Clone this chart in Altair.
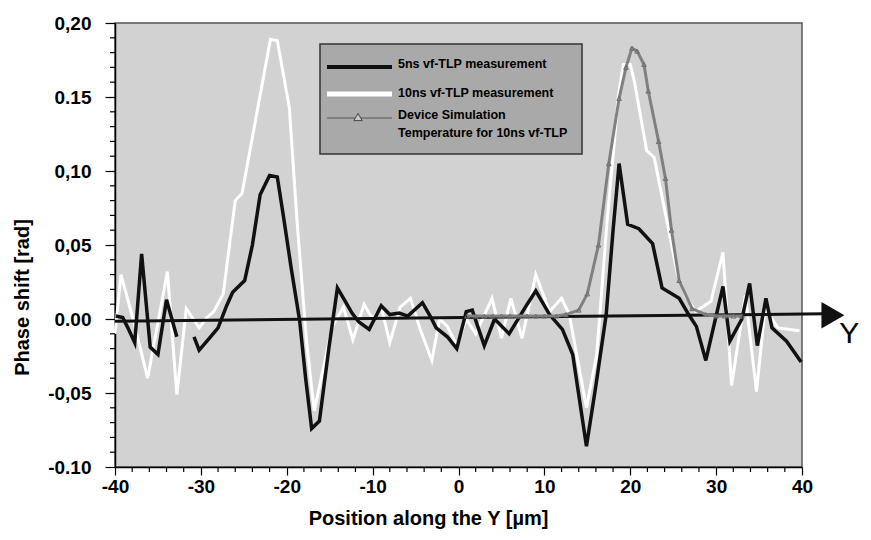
import altair as alt
import pandas as pd

# ---------------- data ----------------
# 5 ns vf-TLP measurement (black); None marks the gap in the trace
x_5ns = [-39.9, -39.1, -38.5, -37.7, -36.9, -35.9, -35.0, -34.0, -32.8, -31.8,
         -30.8, -30.2, -29.0, -28.0, -27.0, -26.3, -24.9, -24.0, -23.1, -22.0,
         -21.1, -20.4, -19.5, -18.5, -17.8, -17.1, -16.2, -15.1, -14.1, -13.2,
         -12.4, -11.6, -10.4, -9.0, -8.0, -6.9, -5.9, -4.2, -3.3, -2.6,
         -1.3, -0.2, 0.9, 1.6, 3.0, 4.2, 5.9, 8.0, 9.0, 10.6,
         12.1, 13.3, 14.9, 16.0, 17.2, 18.0, 18.7, 19.7, 21.0, 22.6,
         23.7, 25.7, 26.8, 27.7, 28.8, 30.8, 31.6, 33.0, 33.9, 34.8,
         35.8, 36.5, 38.2, 39.9]
y_5ns = [0.002, 0.001, -0.006, -0.016, 0.044, -0.019, -0.024, 0.013, -0.012, None,
         -0.012, -0.021, -0.013, -0.006, 0.009, 0.018, 0.026, 0.050, 0.084, 0.097,
         0.096, 0.070, 0.035, -0.001, -0.040, -0.074, -0.069, -0.020, 0.021, 0.012,
         0.004, -0.002, -0.007, 0.009, 0.003, 0.004, 0.002, 0.011, 0.002, -0.006,
         -0.012, -0.020, 0.005, 0.006, -0.018, 0.000, -0.010, 0.010, 0.019, 0.003,
         -0.007, -0.024, -0.086, -0.045, 0.003, 0.060, 0.105, 0.064, 0.061, 0.051,
         0.021, 0.014, 0.003, -0.005, -0.028, 0.022, -0.015, 0.000, 0.024, -0.018,
         0.014, -0.006, -0.015, -0.029]

# 10 ns vf-TLP measurement (white)
x_10ns = [-40.0, -39.3, -37.9, -36.2, -33.9, -32.8, -31.7, -30.2, -29.3, -28.5,
          -27.4, -26.0, -25.2, -21.9, -21.1, -19.7, -18.8, -17.7, -16.8, -14.7,
          -13.4, -12.3, -11.0, -10.0, -9.0, -8.0, -6.8, -5.6, -4.4, -3.1,
          -2.2, -1.3, -0.2, 0.9, 2.0, 3.9, 5.0, 6.1, 7.4, 9.0,
          10.6, 12.0, 12.9, 14.9, 16.1, 17.3, 18.0, 18.6, 19.2, 20.0,
          20.5, 21.9, 22.8, 24.2, 25.5, 26.5, 27.6, 29.4, 30.8, 31.8,
          33.4, 34.7, 35.7, 37.2, 39.7]
y_10ns = [-0.010, 0.030, 0.000, -0.040, 0.032, -0.051, 0.007, -0.006, 0.001, 0.005,
          0.017, 0.080, 0.085, 0.189, 0.188, 0.143, 0.066, -0.015, -0.062, -0.005,
          0.008, -0.014, 0.010, 0.000, 0.008, -0.016, 0.008, 0.014, -0.008, -0.028,
          0.000, -0.005, -0.018, 0.000, -0.010, 0.014, -0.013, 0.014, -0.013, 0.030,
          0.005, 0.014, 0.003, -0.060, -0.024, 0.066, 0.110, 0.150, 0.172, 0.172,
          0.160, 0.114, 0.109, 0.068, 0.030, 0.015, 0.005, 0.012, 0.045, -0.045,
          0.016, -0.049, 0.007, -0.006, -0.008]

# Device simulation, temperature for 10 ns vf-TLP (grey, triangles)
x_sim = [1.0, 2.0, 3.0, 4.0, 5.0, 6.0, 7.0, 8.0, 9.0, 10.0, 11.4, 12.5, 14.0,
         15.0, 16.3, 17.5, 18.7, 19.5, 20.2, 20.8, 21.6, 22.1, 23.3, 24.1,
         24.8, 25.7, 27.2, 28.8, 30.0, 31.0, 32.0, 33.0]
y_sim = [0.002, 0.002, 0.002, 0.002, 0.002, 0.002, 0.002, 0.002, 0.002, 0.002,
         0.002, 0.003, 0.006, 0.017, 0.050, 0.105, 0.149, 0.170, 0.183, 0.181,
         0.172, 0.154, 0.120, 0.095, 0.060, 0.026, 0.007, 0.003, 0.002, 0.002,
         0.002, 0.002]

legend_labels = ["5ns vf-TLP measurement", "10ns vf-TLP measurement",
                 "Device Simulation", "Temperature for 10ns vf-TLP"]

x_major_ticks = [-40, -30, -20, -10, 0, 10, 20, 30, 40]
x_minor_ticks = [v for v in range(-40, 41, 2) if v % 10 != 0]
y_major_ticks = [-0.10, -0.05, 0.00, 0.05, 0.10, 0.15, 0.20]
y_major_labels = ["-0.10", "-0,05", "0.00", "0,05", "0,10", "0.15", "0,20"]
y_minor_ticks = [round(-0.10 + 0.01 * i, 2) for i in range(31) if i % 5 != 0]

# y = 0 arrow axis drawn across the plot
arrow_x = [-40.0, 42.6]
arrow_y = [-0.0015, 0.0035]
arrow_head_x = [43.6]
arrow_head_y = [0.0025]
arrow_label_x = [45.5]
arrow_label_y = [-0.010]
arrow_label = ["Y"]

# ---------------- styles ----------------
FONT = "Liberation Sans"
W, H = 687, 444

df5 = pd.DataFrame({"x": x_5ns, "y": y_5ns})
df10 = pd.DataFrame({"x": x_10ns, "y": y_10ns})
dfsim = pd.DataFrame({"x": x_sim, "y": y_sim})
dfarrow = pd.DataFrame({"x": arrow_x, "y": arrow_y})
dfhead = pd.DataFrame({"x": arrow_head_x, "y": arrow_head_y})
dflab = pd.DataFrame({"x": arrow_label_x, "y": arrow_label_y, "t": arrow_label})
dfxminor = pd.DataFrame({"x": x_minor_ticks})
dfyminor = pd.DataFrame({"y": y_minor_ticks})
one = pd.DataFrame({"k": [0]})

y_expr = ""
for v, lab in zip(y_major_ticks, y_major_labels):
    y_expr += f"round(datum.value*100) == {int(round(v * 100))} ? '{lab}' : "
y_expr += "''"

xscale = alt.Scale(domain=[-40, 40], nice=False, zero=False)
yscale = alt.Scale(domain=[-0.10, 0.20], nice=False, zero=False)

xaxis = alt.Axis(
    values=x_major_ticks,
    labelExpr="'' + datum.value",
    tickSize=8, tickColor="black", domainColor="black", domainWidth=1.5, tickWidth=1.2,
    labelFont=FONT, labelFontWeight="bold", labelFontSize=19, labelColor="black",
    labelPadding=2, grid=False, labelFlush=False, labelOverlap=False,
    title="Position along the Y [µm]", titleFont=FONT, titleFontWeight="bold",
    titleFontSize=20, titleColor="black", titleX=313, titleY=57,
    titleAlign="center", titleBaseline="alphabetic", titleAnchor="middle",
)
yaxis = alt.Axis(
    values=y_major_ticks,
    labelExpr=y_expr,
    tickSize=10, tickColor="black", domainColor="black", domainWidth=1.5, tickWidth=1.2,
    labelFont=FONT, labelFontWeight="bold", labelFontSize=19, labelColor="black",
    labelPadding=14, grid=False, labelFlush=False, labelOverlap=False,
    title="Phase shift [rad]", titleFont=FONT, titleFontWeight="bold",
    titleFontSize=20, titleColor="black", titleX=-93, titleY=274,
    titleAngle=-90, titleAlign="center", titleBaseline="middle",
)

X = alt.X("x:Q", scale=xscale, axis=xaxis)
Y = alt.Y("y:Q", scale=yscale, axis=yaxis)

white = alt.Chart(df10).mark_line(color="white", strokeWidth=3).encode(x=X, y=Y)
black = alt.Chart(df5).mark_line(color="#111111", strokeWidth=3.5).encode(x="x:Q", y="y:Q")
arrow = alt.Chart(dfarrow).mark_line(color="#111111", strokeWidth=3).encode(x="x:Q", y="y:Q")
head = alt.Chart(dfhead).mark_point(shape="triangle-right", filled=True, color="#111111",
                                    size=700, opacity=1).encode(x="x:Q", y="y:Q")
ylab = alt.Chart(dflab).mark_text(font=FONT, fontSize=30, color="black",
                                  align="center", baseline="middle").encode(x="x:Q", y="y:Q", text="t:N")
sim = alt.Chart(dfsim).mark_line(
    color="#808080", strokeWidth=3,
    point=alt.OverlayMarkDef(shape="triangle-up", filled=False, size=22,
                             stroke="#707070", strokeWidth=1, opacity=1),
).encode(x="x:Q", y="y:Q")

xminor = alt.Chart(dfxminor).mark_rule(color="black", strokeWidth=1.2).encode(
    x="x:Q", y=alt.value(H), y2=alt.value(H + 5))
yminor = alt.Chart(dfyminor).mark_rule(color="black", strokeWidth=1.2).encode(
    y="y:Q", x=alt.value(-5), x2=alt.value(0))

# legend box (decoration, placed in pixels inside the plot area)
LX0, LX1, LY0, LY1 = 205, 467, 21, 131
box = alt.Chart(one).mark_rect(fill="#a9a9a9", stroke="#333333", strokeWidth=1.5).encode(
    x=alt.value(LX0), x2=alt.value(LX1), y=alt.value(LY0), y2=alt.value(LY1))
leg_black = alt.Chart(one).mark_rule(color="#111111", strokeWidth=4).encode(
    x=alt.value(212), x2=alt.value(277), y=alt.value(44))
leg_white = alt.Chart(one).mark_rule(color="white", strokeWidth=5).encode(
    x=alt.value(212), x2=alt.value(277), y=alt.value(71))
leg_grey = alt.Chart(one).mark_rule(color="#555555", strokeWidth=1).encode(
    x=alt.value(212), x2=alt.value(277), y=alt.value(95))
leg_tri = alt.Chart(one).mark_point(shape="triangle-up", filled=True, fill="#c8c8c8",
                                    stroke="#444444", strokeWidth=1, size=70, opacity=1).encode(
    x=alt.value(243), y=alt.value(94))
leg_texts = []
for lab, ty in zip(legend_labels, [41, 70, 92, 110]):
    leg_texts.append(alt.Chart(one).mark_text(
        font=FONT, fontWeight="bold", fontSize=12.5, color="black",
        align="left", baseline="middle").encode(
        x=alt.value(283), y=alt.value(ty), text=alt.value(lab)))

chart = alt.layer(white, black, arrow, sim, head, ylab, xminor, yminor, box, leg_black,
                  leg_white, leg_grey, leg_tri, *leg_texts).properties(
    width=W, height=H,
    autosize=alt.AutoSizeParams(type="none"),
    padding={"left": 107, "top": 15, "right": 61, "bottom": 65},
    background="white",
).configure_view(fill="#d2d2d2", stroke="#555555", strokeWidth=1.5)

chart.save("out.html", embed_options={"renderer": "svg", "actions": False})
